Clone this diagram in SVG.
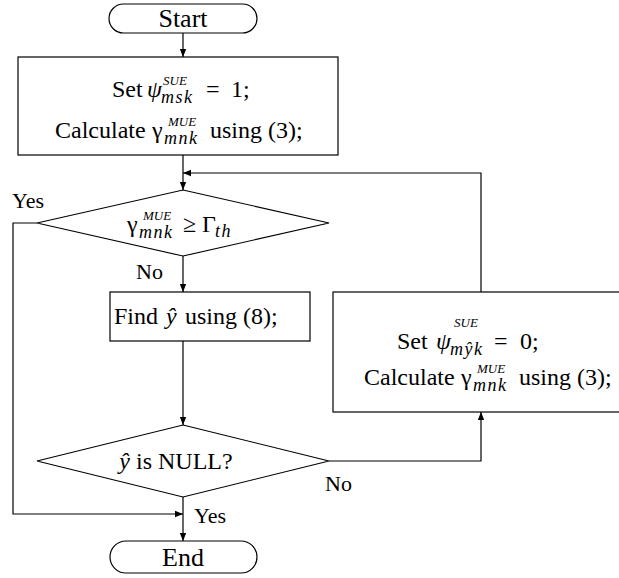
<svg xmlns="http://www.w3.org/2000/svg" width="619" height="578" viewBox="0 0 619 578" font-family="Liberation Serif, DejaVu Serif, Noto Serif, serif">
<style>
.s{fill:#fff;stroke:#000;stroke-width:1.2}
.c{fill:none;stroke:#000;stroke-width:1.2}
text{fill:#000;font-size:24px}
.term{font-size:26px}
.lbl{font-size:22px}
.mi{font-style:italic}
.sub{font-style:italic;font-size:18px;letter-spacing:1.5px}
.sup{font-style:italic;font-size:13px}
</style>
<defs>
<marker id="ah" viewBox="0 0 10 10" refX="10" refY="5" markerWidth="8" markerHeight="8" markerUnits="userSpaceOnUse" orient="auto">
<path d="M0,1 L10,5 L0,9 Z" fill="#000"/>
</marker>
</defs>
<g id="connectors">
<path class="c" d="M183,33 V57" marker-end="url(#ah)"/>
<path class="c" d="M183,155 V190" marker-end="url(#ah)"/>
<path class="c" d="M481,292 V173 H183" marker-end="url(#ah)"/>
<path class="c" d="M183,256 V292" marker-end="url(#ah)"/>
<path class="c" d="M37,223 H13 V514 H183" marker-end="url(#ah)"/>
<path class="c" d="M183,341 V425" marker-end="url(#ah)"/>
<path class="c" d="M329,461 H481 V412" marker-end="url(#ah)"/>
<path class="c" d="M183,497 V541" marker-end="url(#ah)"/>
</g>
<g id="start">
<rect class="s" x="109" y="4" width="148" height="29" rx="14.5"/>
<text class="term" x="183" y="27" text-anchor="middle">Start</text>
</g>
<g id="init">
<rect class="s" x="18" y="57" width="320" height="98"/>
<text x="112" y="97">Set<tspan class="mi" x="147">ψ</tspan><tspan class="sub" x="161" y="103">msk</tspan><tspan class="sup" x="163" y="85">SUE</tspan><tspan x="206" y="97">=</tspan><tspan x="231">1;</tspan></text>
<text x="55" y="138">Calculate<tspan x="152">γ</tspan><tspan class="sub" x="164" y="144">mnk</tspan><tspan class="sup" x="168" y="126">MUE</tspan><tspan x="210" y="138">using (3);</tspan></text>
</g>
<g id="check1">
<polygon class="s" points="183,190 329,223 183,256 37,223"/>
<text x="127" y="232">γ<tspan class="sub" x="139" y="238">mnk</tspan><tspan class="sup" x="143" y="220">MUE</tspan><tspan x="183" y="232">≥</tspan><tspan x="202">Γ</tspan><tspan class="sub" x="215" y="237">th</tspan></text>
</g>
<g id="find">
<rect class="s" x="110" y="292" width="200" height="49"/>
<text x="114" y="324">Find<tspan class="mi" x="166">ŷ</tspan><tspan x="185">using (8);</tspan></text>
</g>
<g id="check2">
<polygon class="s" points="183,425 329,461 183,497 37,461"/>
<text x="176" y="469" text-anchor="middle"><tspan class="mi">ŷ</tspan> is NULL?</text>
</g>
<g id="update">
<rect class="s" x="333" y="292" width="300" height="120"/>
<text x="397" y="349">Set<tspan class="mi" x="436">ψ</tspan><tspan class="sub" x="450" y="355">mŷk</tspan><tspan class="sup" x="454" y="327">SUE</tspan><tspan x="494" y="349">=</tspan><tspan x="520">0;</tspan></text>
<text x="364" y="385">Calculate<tspan x="461">γ</tspan><tspan class="sub" x="473" y="391">mnk</tspan><tspan class="sup" x="477" y="373">MUE</tspan><tspan x="519" y="385">using (3);</tspan></text>
</g>
<g id="end">
<rect class="s" x="110" y="541" width="147" height="32" rx="16"/>
<text class="term" x="183" y="566" text-anchor="middle">End</text>
</g>
<g id="labels">
<text class="lbl" x="12" y="208">Yes</text>
<text class="lbl" x="136" y="279">No</text>
<text class="lbl" x="325" y="491">No</text>
<text class="lbl" x="194" y="523">Yes</text>
</g>
</svg>
